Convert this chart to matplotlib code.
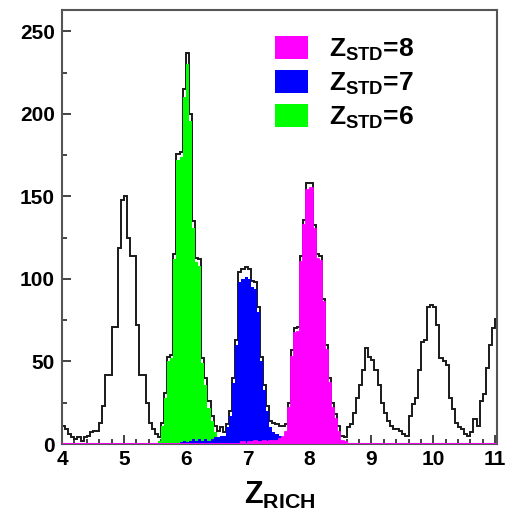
import numpy as np
import matplotlib
matplotlib.use("Agg")
import matplotlib.pyplot as plt
from matplotlib.patches import Patch

plt.rcParams["font.family"] = ["Liberation Sans", "DejaVu Sans"]
plt.rcParams["mathtext.fontset"] = "custom"
plt.rcParams["mathtext.bf"] = "Liberation Sans:bold"
plt.rcParams["mathtext.rm"] = "Liberation Sans"

# histogram binning (Z_RICH)
bin_lo = 4.0
bin_w = 0.05

# all events, 4.00 ... 11.05
all_counts = [
    11, 9, 6, 4, 3, 4, 2, 4, 5, 7,
    8, 8, 13, 23, 42, 42, 71, 71, 119, 148,
    150, 125, 114, 114, 72, 42, 42, 25, 13, 9,
    6, 4, 13, 31, 53, 54, 115, 176, 177, 215,
    237, 200, 135, 113, 112, 52, 40, 26, 17, 11,
    8, 10, 7, 12, 20, 40, 63, 104, 106, 107,
    106, 99, 98, 83, 53, 36, 23, 14, 13, 12,
    11, 11, 12, 25, 57, 70, 71, 114, 136, 158,
    158, 133, 115, 114, 88, 60, 40, 25, 18, 11,
    5, 4, 10, 12, 19, 28, 36, 45, 58, 53,
    51, 45, 36, 25, 19, 14, 11, 9, 9, 8,
    6, 5, 17, 24, 28, 45, 62, 63, 83, 84,
    83, 72, 52, 50, 48, 28, 21, 13, 10, 9,
    6, 5, 7, 15, 11, 26, 30, 46, 60, 70,
    76,
]

# Z_STD = 6, first bin at 5.55
z6_lo = 5.55
z6_counts = [2, 11, 28, 50, 52, 112, 172, 174, 210, 230,
             196, 131, 110, 108, 49, 36, 22, 14, 7, 2]

# Z_STD = 7, first bin at 5.90
z7_lo = 5.90
z7_counts = [1, 2, 1, 2, 3, 2, 3, 2, 3, 2,
             3, 4, 4, 5, 5, 10, 17, 37, 60, 98,
             100, 101, 100, 95, 94, 80, 50, 33, 20, 10,
             7, 6, 5, 3, 2, 1]

# Z_STD = 8, first bin at 6.90
z8_lo = 6.90
z8_counts = [1, 0, 1, 1, 2, 1, 1, 2, 1, 2,
             2, 2, 3, 4, 7, 22, 53, 67, 68, 110,
             133, 154, 155, 130, 112, 111, 86, 57, 37, 22,
             15, 7, 2, 1]

legend_labels = [r"$\mathbf{Z_{STD}}$=8", r"$\mathbf{Z_{STD}}$=7",
                 r"$\mathbf{Z_{STD}}$=6"]

C6, C7, C8 = "#00ff00", "#0000ff", "#ff00ff"


def full_range(lo, counts, n):
    h = np.zeros(n)
    i0 = int(round((lo - bin_lo) / bin_w))
    h[i0:i0 + len(counts)] = counts
    return h


n = len(all_counts)
edges = bin_lo + bin_w * np.arange(n + 1)
h_all = np.array(all_counts, dtype=float)
h6 = full_range(z6_lo, z6_counts, n)
h7 = full_range(z7_lo, z7_counts, n)
h8 = full_range(z8_lo, z8_counts, n)

fig = plt.figure(figsize=(5.07, 5.13), dpi=100)
ax = fig.add_axes([62 / 507, 1 - 444 / 513, 435 / 507, 434 / 513])

ax.stairs(h_all, edges, color="#1a1a1a", lw=1.4, zorder=2)
ax.stairs(h6, edges, fill=True, color=C6, lw=0, zorder=3)
ax.stairs(h7, edges, fill=True, color=C7, lw=0, zorder=4)
ax.stairs(h8, edges, fill=True, color=C8, lw=0, zorder=5)
ax.stairs(h8, edges, color=C8, lw=1.3, zorder=6)

ax.set_xlim(4.0, 11.03)
ax.set_ylim(0, 263)
ax.set_xticks(np.arange(4, 12))
ax.set_xticks(np.arange(4, 11.05, 0.2), minor=True)
ax.set_yticks(np.arange(0, 251, 50))
ax.set_yticks(np.arange(0, 251, 25), minor=True)
ax.tick_params(which="both", direction="in", top=False, right=False,
               width=1.1, color="#111111")
ax.tick_params(which="major", length=6.5, labelsize=15, pad=4)
ax.tick_params(which="minor", length=3.5)
ax.tick_params(axis="y", pad=5)
for lab in ax.get_xticklabels() + ax.get_yticklabels():
    lab.set_fontweight("bold")
for sp in ax.spines.values():
    sp.set_color("#555555")
    sp.set_linewidth(1.5)

ax.set_xlabel(r"$\mathbf{Z_{RICH}}$", fontsize=22, labelpad=8)

handles = [Patch(facecolor=c, edgecolor="none") for c in (C8, C7, C6)]
ax.legend(handles, legend_labels, loc="upper left",
          bbox_to_anchor=(0.49, 0.94), frameon=False,
          prop={"weight": "bold", "size": 19},
          handlelength=1.25, handleheight=0.95, handletextpad=0.8,
          labelspacing=0.28, borderpad=0, borderaxespad=0)

fig.savefig("out.png", dpi=100)
